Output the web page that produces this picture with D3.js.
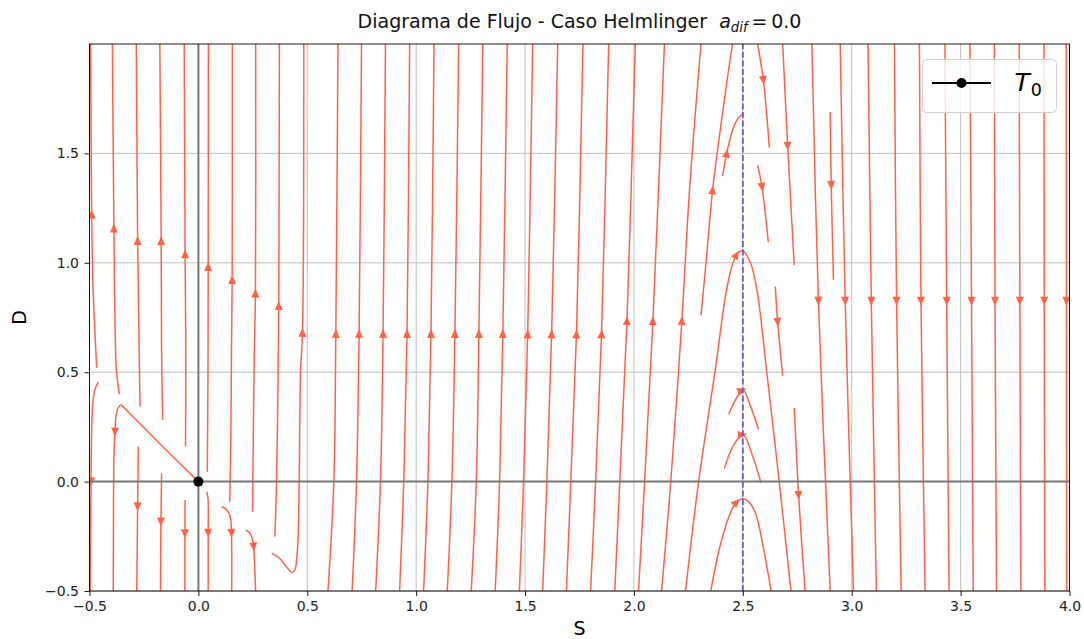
<!DOCTYPE html>
<html>
<head>
<meta charset="utf-8">
<script src="https://cdn.jsdelivr.net/npm/d3@7"></script>
<style>
    body { margin: 0; background: #fff; }
    svg { display: block; font-family: "DejaVu Sans", sans-serif; }
</style>
</head>
<body>
<div id="chart"></div>
<script>

// axis ticks
const xTicks = [-0.5, 0.0, 0.5, 1.0, 1.5, 2.0, 2.5, 3.0, 3.5, 4.0];
const yTicks = [-0.5, 0.0, 0.5, 1.0, 1.5];

// equilibrium T0 and the dashed line S = a
const origin = [0, 0];
const sLine = 2.5;

// streamlines, points [S, D] in flow order, a = arrow position
const streamsLeft = [
    { p: [[-0.467, 0.52], [-0.484, 0.9], [-0.490, 1.22], [-0.495, 2.0]], a: [-0.490, 1.22] },
    { p: [[-0.459, 0.455], [-0.472, 0.43], [-0.482, 0.385], [-0.488, 0.30], [-0.492, 0.1], [-0.494, -0.1], [-0.496, -0.5]], a: [-0.493, 0.0] },
    { p: [[-0.363, 0.40], [-0.370, 0.45], [-0.377, 0.515], [-0.384, 0.8], [-0.388, 1.157], [-0.395, 2.0]], a: [-0.388, 1.157] },
    { p: [[0, 0], [-0.177, 0.173], [-0.337, 0.333], [-0.356, 0.35], [-0.369, 0.336], [-0.378, 0.30], [-0.383, 0.227], [-0.388, 0.1], [-0.390, -0.2], [-0.391, -0.5]], a: [-0.383, 0.227] },
    { p: [[-0.268, 0.342], [-0.272, 0.6], [-0.276, 0.9], [-0.279, 1.10], [-0.285, 2.0]], a: [-0.279, 1.10] },
    { p: [[-0.276, 0.16], [-0.279, -0.115], [-0.283, -0.5]], a: [-0.279, -0.115] },
    { p: [[-0.164, 0.282], [-0.169, 0.6], [-0.171, 1.10], [-0.177, 2.0]], a: [-0.171, 1.10] },
    { p: [[-0.169, 0.038], [-0.172, -0.183], [-0.174, -0.5]], a: [-0.172, -0.183] },
    { p: [[-0.059, 0.16], [-0.058, 0.6], [-0.061, 1.039], [-0.065, 2.0]], a: [-0.061, 1.039] },
    { p: [[-0.061, -0.084], [-0.062, -0.236], [-0.062, -0.5]], a: [-0.062, -0.236] },
    { p: [[0.041, 0.045], [0.044, 0.5], [0.045, 0.981], [0.046, 2.0]], a: [0.045, 0.981] },
    { p: [[0.038, -0.046], [0.044, -0.075], [0.045, -0.236], [0.045, -0.5]], a: [0.045, -0.236] },
    { p: [[0.144, -0.092], [0.149, 0.2], [0.152, 0.6], [0.155, 0.922], [0.156, 2.0]], a: [0.155, 0.922] },
    { p: [[0.106, -0.115], [0.122, -0.122], [0.137, -0.138], [0.148, -0.17], [0.152, -0.236], [0.153, -0.5]], a: [0.152, -0.236] },
    { p: [[0.249, -0.138], [0.252, 0.2], [0.257, 0.6], [0.262, 0.861], [0.263, 2.0]], a: [0.262, 0.861] },
    { p: [[0.217, -0.221], [0.233, -0.232], [0.244, -0.251], [0.253, -0.29], [0.259, -0.4], [0.263, -0.5]], a: [0.255, -0.298] },
    { p: [[0.351, -0.252], [0.359, 0.0], [0.366, 0.5], [0.369, 0.803], [0.372, 2.0]], a: [0.369, 0.803] },
    { p: [[0.336, -0.328], [0.357, -0.338], [0.377, -0.355], [0.397, -0.38], [0.417, -0.405], [0.432, -0.415], [0.444, -0.40],
          [0.452, -0.35], [0.458, -0.25], [0.463, 0], [0.469, 0.5], [0.478, 0.68], [0.484, 2.0]], a: [0.478, 0.68] }
];

// near-vertical rising lines in the middle: bottom, D = 0, arrow, top
const streamsMid = [
    { p: [[0.595, -0.5], [0.622, 0], [0.631, 0.677], [0.641, 2.0]], a: [0.631, 0.677] },
    { p: [[0.706, -0.5], [0.726, 0], [0.738, 0.677], [0.749, 2.0]], a: [0.738, 0.677] },
    { p: [[0.814, -0.5], [0.836, 0], [0.848, 0.677], [0.859, 2.0]], a: [0.848, 0.677] },
    { p: [[0.924, -0.5], [0.943, 0], [0.958, 0.677], [0.970, 2.0]], a: [0.958, 0.677] },
    { p: [[1.034, -0.5], [1.054, 0], [1.068, 0.677], [1.082, 2.0]], a: [1.068, 0.677] },
    { p: [[1.143, -0.5], [1.164, 0], [1.178, 0.677], [1.195, 2.0]], a: [1.178, 0.677] },
    { p: [[1.253, -0.5], [1.276, 0], [1.288, 0.677], [1.306, 2.0]], a: [1.288, 0.677] },
    { p: [[1.363, -0.5], [1.383, 0], [1.398, 0.677], [1.418, 2.0]], a: [1.398, 0.677] },
    { p: [[1.474, -0.5], [1.493, 0], [1.512, 0.674], [1.535, 2.0]], a: [1.512, 0.674] },
    { p: [[1.581, -0.5], [1.600, 0], [1.622, 0.674], [1.650, 2.0]], a: [1.622, 0.674] },
    { p: [[1.690, -0.5], [1.710, 0], [1.736, 0.674], [1.766, 2.0]], a: [1.736, 0.674] },
    { p: [[1.801, -0.5], [1.824, 0], [1.851, 0.674], [1.884, 2.0]], a: [1.851, 0.674] },
    { p: [[1.912, -0.5], [1.935, 0], [1.968, 0.735], [2.006, 2.0]], a: [1.968, 0.735] },
    { p: [[2.021, -0.5], [2.049, 0], [2.087, 0.735], [2.140, 2.0]], a: [2.087, 0.735] },
    { p: [[2.127, -0.5], [2.169, 0], [2.220, 0.735], [2.255, 1.33], [2.308, 2.0]], a: [2.220, 0.735] }
];

// lines around S = 2.5
const streamsNear = [
    { p: [[2.308, 0.761], [2.331, 1.0], [2.361, 1.331], [2.382, 1.5], [2.430, 1.85], [2.453, 2.0]], a: [2.361, 1.331] },
    { p: [[2.407, 1.396], [2.426, 1.5], [2.453, 1.607], [2.478, 1.66], [2.5, 1.681]], a: [2.426, 1.5] },
    { p: [[2.237, -0.5], [2.297, 0], [2.372, 0.5], [2.425, 0.875], [2.455, 1.0], [2.478, 1.045], [2.5, 1.054],
          [2.535, 1.0], [2.565, 0.875], [2.61, 0.5], [2.667, 0], [2.721, -0.5]], a: [2.465, 1.04] },
    { p: [[2.435, 0.308], [2.469, 0.378], [2.5, 0.419], [2.538, 0.337], [2.572, 0.239]], a: [2.495, 0.418] },
    { p: [[2.415, 0.06], [2.453, 0.158], [2.5, 0.215], [2.545, 0.117], [2.583, -0.005]], a: [2.497, 0.214] },
    { p: [[2.353, -0.5], [2.394, -0.3], [2.44, -0.15], [2.47, -0.095], [2.5, -0.078], [2.53, -0.095], [2.56, -0.15],
          [2.594, -0.3], [2.63, -0.5]], a: [2.465, -0.088] },
    { p: [[2.568, 2.0], [2.594, 1.835], [2.622, 1.526]], a: [2.594, 1.835] },
    { p: [[2.568, 1.445], [2.588, 1.347], [2.617, 1.094]], a: [2.588, 1.347] },
    { p: [[2.683, 2.0], [2.706, 1.534], [2.736, 0.989]], a: [2.706, 1.534] },
    { p: [[2.649, 0.891], [2.660, 0.728], [2.683, 0.484]], a: [2.660, 0.728] },
    { p: [[2.736, 0.337], [2.756, -0.062], [2.786, -0.5]], a: [2.756, -0.062] }
];

// falling lines on the right
const streamsRight = [
    { p: [[2.817, 2.0], [2.847, 0.826], [2.901, -0.5]], a: [2.847, 0.826] },
    { p: [[2.901, 1.689], [2.906, 1.355], [2.916, 0.923]], a: [2.906, 1.355] },
    { p: [[2.947, 2.0], [2.970, 0.826], [3.008, -0.5]], a: [2.970, 0.826] },
    { p: [[3.075, 2.0], [3.090, 0.826], [3.113, -0.5]], a: [3.090, 0.826] },
    { p: [[3.196, 2.0], [3.206, 0.826], [3.227, -0.5]], a: [3.206, 0.826] },
    { p: [[3.311, 2.0], [3.318, 0.826], [3.337, -0.5]], a: [3.318, 0.826] },
    { p: [[3.428, 2.0], [3.436, 0.826], [3.447, -0.5]], a: [3.436, 0.826] },
    { p: [[3.543, 2.0], [3.550, 0.826], [3.558, -0.5]], a: [3.550, 0.826] },
    { p: [[3.655, 2.0], [3.658, 0.826], [3.665, -0.5]], a: [3.658, 0.826] },
    { p: [[3.769, 2.0], [3.772, 0.826], [3.777, -0.5]], a: [3.772, 0.826] },
    { p: [[3.883, 2.0], [3.884, 0.826], [3.887, -0.5]], a: [3.884, 0.826] },
    { p: [[3.985, 2.0], [3.986, 0.826], [3.987, -0.5]], a: [3.986, 0.826] }
];


const width = 1084, height = 639;
const margin = { top: 44, right: 14.5, bottom: 48, left: 89.5 };

const svg = d3.select("#chart").append("svg")
    .attr("width", width)
    .attr("height", height);

const x = d3.scaleLinear().domain([-0.5, 4.0]).range([margin.left, width - margin.right]);
const y = d3.scaleLinear().domain([-0.5, 2.0]).range([height - margin.bottom, margin.top]);

const streamColor = "#ff6347";

svg.append("clipPath").attr("id", "plot-clip")
    .append("rect")
    .attr("x", x(-0.5)).attr("y", y(2.0))
    .attr("width", x(4.0) - x(-0.5)).attr("height", y(-0.5) - y(2.0));

// grid
let grid = svg.append("g").attr("stroke", "#b0b0b0").attr("stroke-width", 0.8);
grid.selectAll(".gx").data(xTicks).enter().append("line")
    .attr("x1", d => x(d)).attr("x2", d => x(d))
    .attr("y1", y(-0.5)).attr("y2", y(2.0));
grid.selectAll(".gy").data(yTicks).enter().append("line")
    .attr("x1", x(-0.5)).attr("x2", x(4.0))
    .attr("y1", d => y(d)).attr("y2", d => y(d));

// streamlines
let plot = svg.append("g").attr("clip-path", "url(#plot-clip)");

let line = d3.line()
    .x(d => x(d[0]))
    .y(d => y(d[1]))
    .curve(d3.curveCatmullRom.alpha(0.5));

let allStreams = streamsLeft.concat(streamsMid, streamsNear, streamsRight);

let paths = plot.append("g").selectAll("path")
    .data(allStreams)
    .enter().append("path")
    .attr("d", d => line(d.p))
    .attr("fill", "none")
    .attr("stroke", streamColor)
    .attr("stroke-width", 1.5);

// arrow heads, oriented along the drawn curve
let arrows = plot.append("g");
paths.each(function (d) {
    if (!d.a) return;
    let node = this;
    let L = node.getTotalLength();
    let tx = x(d.a[0]), ty = y(d.a[1]);
    let best = 0, bd = Infinity;
    for (let l = 0; l <= L; l += 0.5) {
        let q = node.getPointAtLength(l);
        let dd = (q.x - tx) * (q.x - tx) + (q.y - ty) * (q.y - ty);
        if (dd < bd) { bd = dd; best = l; }
    }
    let p = node.getPointAtLength(best);
    let p0 = node.getPointAtLength(Math.max(0, best - 2));
    let p1 = node.getPointAtLength(Math.min(L, best + 2));
    let ang = Math.atan2(p1.y - p0.y, p1.x - p0.x) * 180 / Math.PI;
    arrows.append("path")
        .attr("d", "M4.8,0 L-4.2,-4 L-4.2,4 Z")
        .attr("fill", streamColor)
        .attr("transform", "translate(" + p.x + "," + p.y + ") rotate(" + ang + ")");
});

// zero lines
svg.append("line")
    .attr("x1", x(-0.5)).attr("x2", x(4.0))
    .attr("y1", y(0)).attr("y2", y(0))
    .attr("stroke", "#777").attr("stroke-width", 2);
svg.append("line")
    .attr("x1", x(0)).attr("x2", x(0))
    .attr("y1", y(-0.5)).attr("y2", y(2.0))
    .attr("stroke", "#777").attr("stroke-width", 2);

// dashed line S = 2.5
svg.append("line")
    .attr("x1", x(sLine)).attr("x2", x(sLine))
    .attr("y1", y(-0.5)).attr("y2", y(2.0))
    .attr("stroke", "#6a5acd").attr("stroke-width", 1.8)
    .attr("stroke-dasharray", "6,2.6");

// T0
svg.append("circle")
    .attr("cx", x(origin[0])).attr("cy", y(origin[1]))
    .attr("r", 5).attr("fill", "black");

// frame
svg.append("rect")
    .attr("x", x(-0.5)).attr("y", y(2.0))
    .attr("width", x(4.0) - x(-0.5)).attr("height", y(-0.5) - y(2.0))
    .attr("fill", "none").attr("stroke", "black").attr("stroke-width", 0.9);

// axes
let fmt = d3.format(".1f");
let xAxis = svg.append("g")
    .attr("transform", "translate(0," + y(-0.5) + ")")
    .call(d3.axisBottom(x).tickValues(xTicks).tickFormat(fmt).tickSize(5).tickPadding(5.5));
let yAxis = svg.append("g")
    .attr("transform", "translate(" + x(-0.5) + ",0)")
    .call(d3.axisLeft(y).tickValues(yTicks).tickFormat(fmt).tickSize(5).tickPadding(5.5));

[xAxis, yAxis].forEach(g => {
    g.select(".domain").remove();
    g.attr("font-family", null).attr("font-size", null);
    g.selectAll("text").attr("font-size", "14px").attr("fill", "#222");
    g.selectAll("line").attr("stroke", "black").attr("stroke-width", 0.9);
});

// labels
svg.append("text")
    .attr("x", (x(-0.5) + x(4.0)) / 2).attr("y", 634.5)
    .attr("text-anchor", "middle").attr("font-size", "19px")
    .text("S");
svg.append("text")
    .attr("transform", "translate(25.5," + (y(-0.5) + y(2.0)) / 2 + ") rotate(-90)")
    .attr("text-anchor", "middle").attr("font-size", "19px")
    .text("D");

// title
let title = svg.append("text")
    .attr("x", (x(-0.5) + x(4.0)) / 2).attr("y", 27.5)
    .attr("text-anchor", "middle").attr("font-size", "19px").attr("fill", "#111");
title.append("tspan").text("Diagrama de Flujo - Caso Helmlinger\u00a0\u00a0");
title.append("tspan").attr("font-style", "italic").text("a");
title.append("tspan").attr("font-style", "italic").attr("font-size", "13.3px").attr("dy", 4).text("dif");
title.append("tspan").attr("dy", -4).text("\u2009=\u20090.0");

// legend
let legend = svg.append("g").attr("transform", "translate(922.5,59.5)");
legend.append("rect")
    .attr("width", 134).attr("height", 53).attr("rx", 4)
    .attr("fill", "white").attr("fill-opacity", 0.8)
    .attr("stroke", "#d0d0d0").attr("stroke-width", 1);
legend.append("line")
    .attr("x1", 9.5).attr("x2", 68.5).attr("y1", 23.5).attr("y2", 23.5)
    .attr("stroke", "black").attr("stroke-width", 2);
legend.append("circle").attr("cx", 39).attr("cy", 23.5).attr("r", 5).attr("fill", "black");
let lt = legend.append("text").attr("x", 92).attr("y", 31).attr("font-size", "25px");
lt.append("tspan").attr("font-style", "italic").text("T");
lt.append("tspan").attr("font-size", "17.5px").attr("dy", 5).attr("dx", 1).text("0");

</script>
</body>
</html>
